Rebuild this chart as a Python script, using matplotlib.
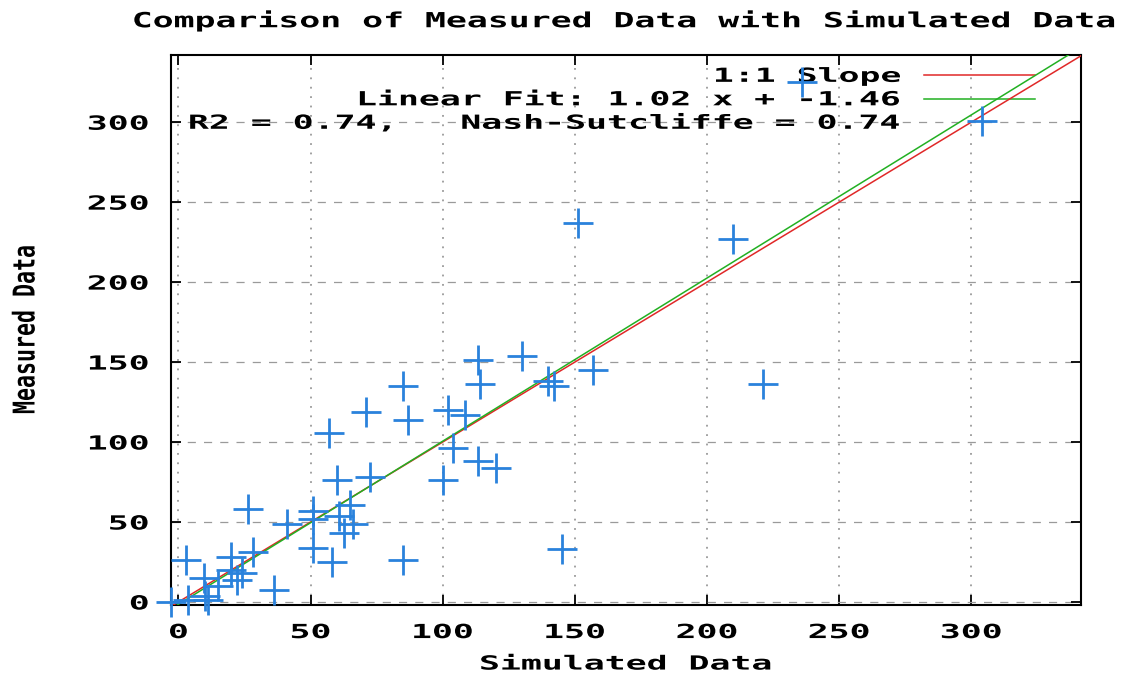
import numpy as np
import matplotlib
matplotlib.use('Agg')
import matplotlib.pyplot as plt
from matplotlib import patheffects
from matplotlib.transforms import Affine2D

sim = [-3, 3.5, 11, 10, 9.5, 2.7, 19.7, 19.7, 24, 28.4, 36, 15, 22, 26.5,
       41, 51, 51, 60.6, 65, 66, 62.5, 51, 58, 85, 60, 72.6, 57, 71, 87, 85,
       100, 102, 108.5, 104, 113.5, 120, 113.5, 130, 114, 140, 142, 157, 145,
       151, 210, 221, 304, 236]
meas = [0, 1, 1, 4, 15, 26, 28, 20, 18, 31, 7.5, 10, 14, 58,
        49, 57, 52, 54, 60.6, 49, 43, 34, 25, 26, 76, 78, 105.6, 119, 114, 135,
        76, 120, 117, 96, 88, 84, 151, 154, 136, 138, 135, 145, 33,
        237, 227, 136, 301, 325]

fit_slope = 1.02
fit_intercept = -1.46
r2 = 0.74
nse = 0.74
ticks = [0, 50, 100, 150, 200, 250, 300]

plt.rcParams['font.family'] = 'DejaVu Sans Mono'
plt.rcParams['font.weight'] = 'bold'


class Stretch(patheffects.AbstractPathEffect):
    # widen glyphs along the text direction (gnuplot's blocky font is wide)
    def __init__(self, sx, anchor='left'):
        super().__init__()
        self.sx = sx
        self.anchor = anchor

    def draw_path(self, renderer, gc, tpath, affine, rgbFace=None):
        ext = tpath.get_extents()
        if self.anchor == 'right':
            px = ext.x1
        elif self.anchor == 'center':
            px = (ext.x0 + ext.x1) / 2
        else:
            px = 0
        t = Affine2D().translate(-px, 0).scale(self.sx, 1).translate(px, 0)
        renderer.draw_path(gc, tpath, t + affine, rgbFace)


fig = plt.figure(figsize=(11.26, 6.75), dpi=100)
ax = fig.add_axes([0.1519, 0.1037, 0.8081, 0.8148])

xmin, xmax = -2.8, 341.5
ymin, ymax = -1.9, 342
ax.set_xlim(xmin, xmax)
ax.set_ylim(ymin, ymax)

# grid: dotted verticals, dashed horizontals
ax.xaxis.grid(True, linestyle=(0, (1, 4.2)), linewidth=1.3, color='#9a9a9a', zorder=0)
ax.yaxis.grid(True, linestyle=(0, (6.5, 6.5)), linewidth=0.9, color='#9a9a9a', zorder=0)
ax.set_axisbelow(True)

xs = np.array([xmin, xmax])
ax.plot(xs, xs, color='#e02828', linewidth=1.1, label='1:1 Slope', zorder=3)
ax.plot(xs, fit_slope * xs + fit_intercept, color='#22b022', linewidth=1.1,
        label=f'Linear Fit: {fit_slope:.2f} x + {fit_intercept:.2f}', zorder=3)
ax.plot([], [], color='none', label=f'R2 = {r2:.2f},   Nash-Sutcliffe = {nse:.2f}')

ax.plot(sim, meas, linestyle='none', marker='+', markersize=21.5,
        markeredgewidth=2.0, color='#2a82dc', clip_on=False, zorder=4)

ax.set_xticks(ticks)
ax.set_yticks(ticks)
ax.tick_params(direction='in', length=7, width=1.3, top=True, right=True,
               labelsize=14)
ax.tick_params(axis='x', pad=13)
ax.tick_params(axis='y', pad=16)
for s in ax.spines.values():
    s.set_linewidth(1.5)

for t in ax.get_xticklabels():
    t.set_path_effects([Stretch(1.79, 'center')])
for t in ax.get_yticklabels():
    t.set_path_effects([Stretch(1.79, 'right')])

leg = ax.legend(loc='upper right', bbox_to_anchor=(0.949, 0.9785),
                frameon=False, markerfirst=False, alignment='right',
                fontsize=14, handlelength=5.66, handletextpad=1.2,
                labelspacing=0.23, borderpad=0, borderaxespad=0)
leg.set_zorder(2)
for t in leg.get_texts():
    t.set_path_effects([Stretch(1.79, 'right')])

title = ax.set_title('Comparison of Measured Data with Simulated Data',
                     fontsize=15, fontweight='bold', pad=20)
title.set_path_effects([Stretch(1.67, 'center')])

xl = ax.set_xlabel('Simulated Data', fontsize=14, fontweight='bold', labelpad=9)
xl.set_path_effects([Stretch(1.79, 'center')])

yl = fig.text(26 / 1126, 1 - 329 / 675, 'Measured Data', rotation=90,
              ha='center', va='center', fontsize=21.6, fontweight='bold')
yl.set_path_effects([Stretch(0.72, 'center')])

fig.savefig('out.png', dpi=100)
